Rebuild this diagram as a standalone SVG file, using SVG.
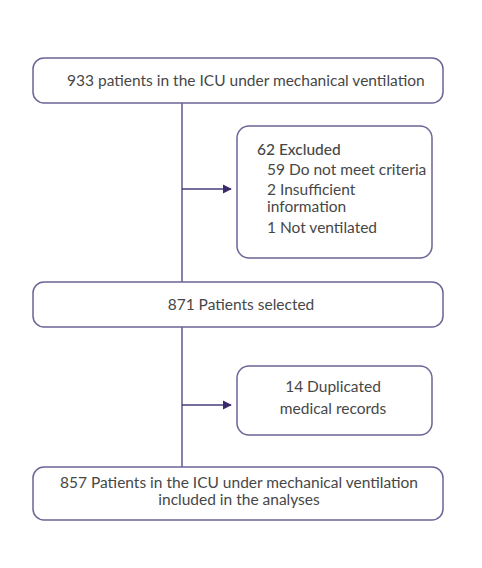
<svg xmlns="http://www.w3.org/2000/svg" width="482" height="568" viewBox="0 0 482 568">
<defs>
<style>
.box{fill:#fff;stroke:#6e6496;stroke-width:1.5}
.ln{stroke:#4a3d78;stroke-width:1.3;fill:none}
text{font-family:Lato,"Open Sans",sans-serif;font-size:15.5px;fill:#474747}
.c{text-anchor:middle}
.h{font-weight:500}
</style>
<marker id="ah" viewBox="0 0 10 10" refX="9" refY="5" markerWidth="9" markerHeight="10" markerUnits="userSpaceOnUse" orient="auto">
<path d="M0,0L10,5L0,10z" fill="#3b2a6b"/>
</marker>
</defs>
<rect width="482" height="568" fill="#fff"/>
<g id="connectors">
<line class="ln" x1="182" y1="103" x2="182" y2="282"/>
<line class="ln" x1="182" y1="189" x2="231" y2="189" marker-end="url(#ah)"/>
<line class="ln" x1="182" y1="327" x2="182" y2="467"/>
<line class="ln" x1="182" y1="405" x2="231" y2="405" marker-end="url(#ah)"/>
</g>
<g id="n1">
<rect class="box" x="33" y="58" width="410" height="45" rx="11"/>
<text x="67" y="86">933  patients in the ICU under mechanical ventilation</text>
</g>
<g id="n2">
<rect class="box" x="237" y="126" width="195" height="132" rx="12"/>
<text class="h" x="257" y="155">62 Excluded</text>
<text x="267" y="175">59 Do not meet criteria</text>
<text x="267" y="195">2 Insufficient</text>
<text x="267" y="212">information</text>
<text x="267" y="233">1 Not ventilated</text>
</g>
<g id="n3">
<rect class="box" x="33" y="282" width="410" height="45" rx="11"/>
<text class="c" x="241" y="310">871 Patients selected</text>
</g>
<g id="n4">
<rect class="box" x="237" y="366" width="195" height="69" rx="12"/>
<text class="c" x="333" y="392">14 Duplicated</text>
<text class="c" x="333" y="414">medical records</text>
</g>
<g id="n5">
<rect class="box" x="33" y="467" width="410" height="53" rx="11"/>
<text class="c" x="239" y="488">857 Patients in the ICU under mechanical ventilation</text>
<text class="c" x="239" y="505">included in the analyses</text>
</g>
</svg>
